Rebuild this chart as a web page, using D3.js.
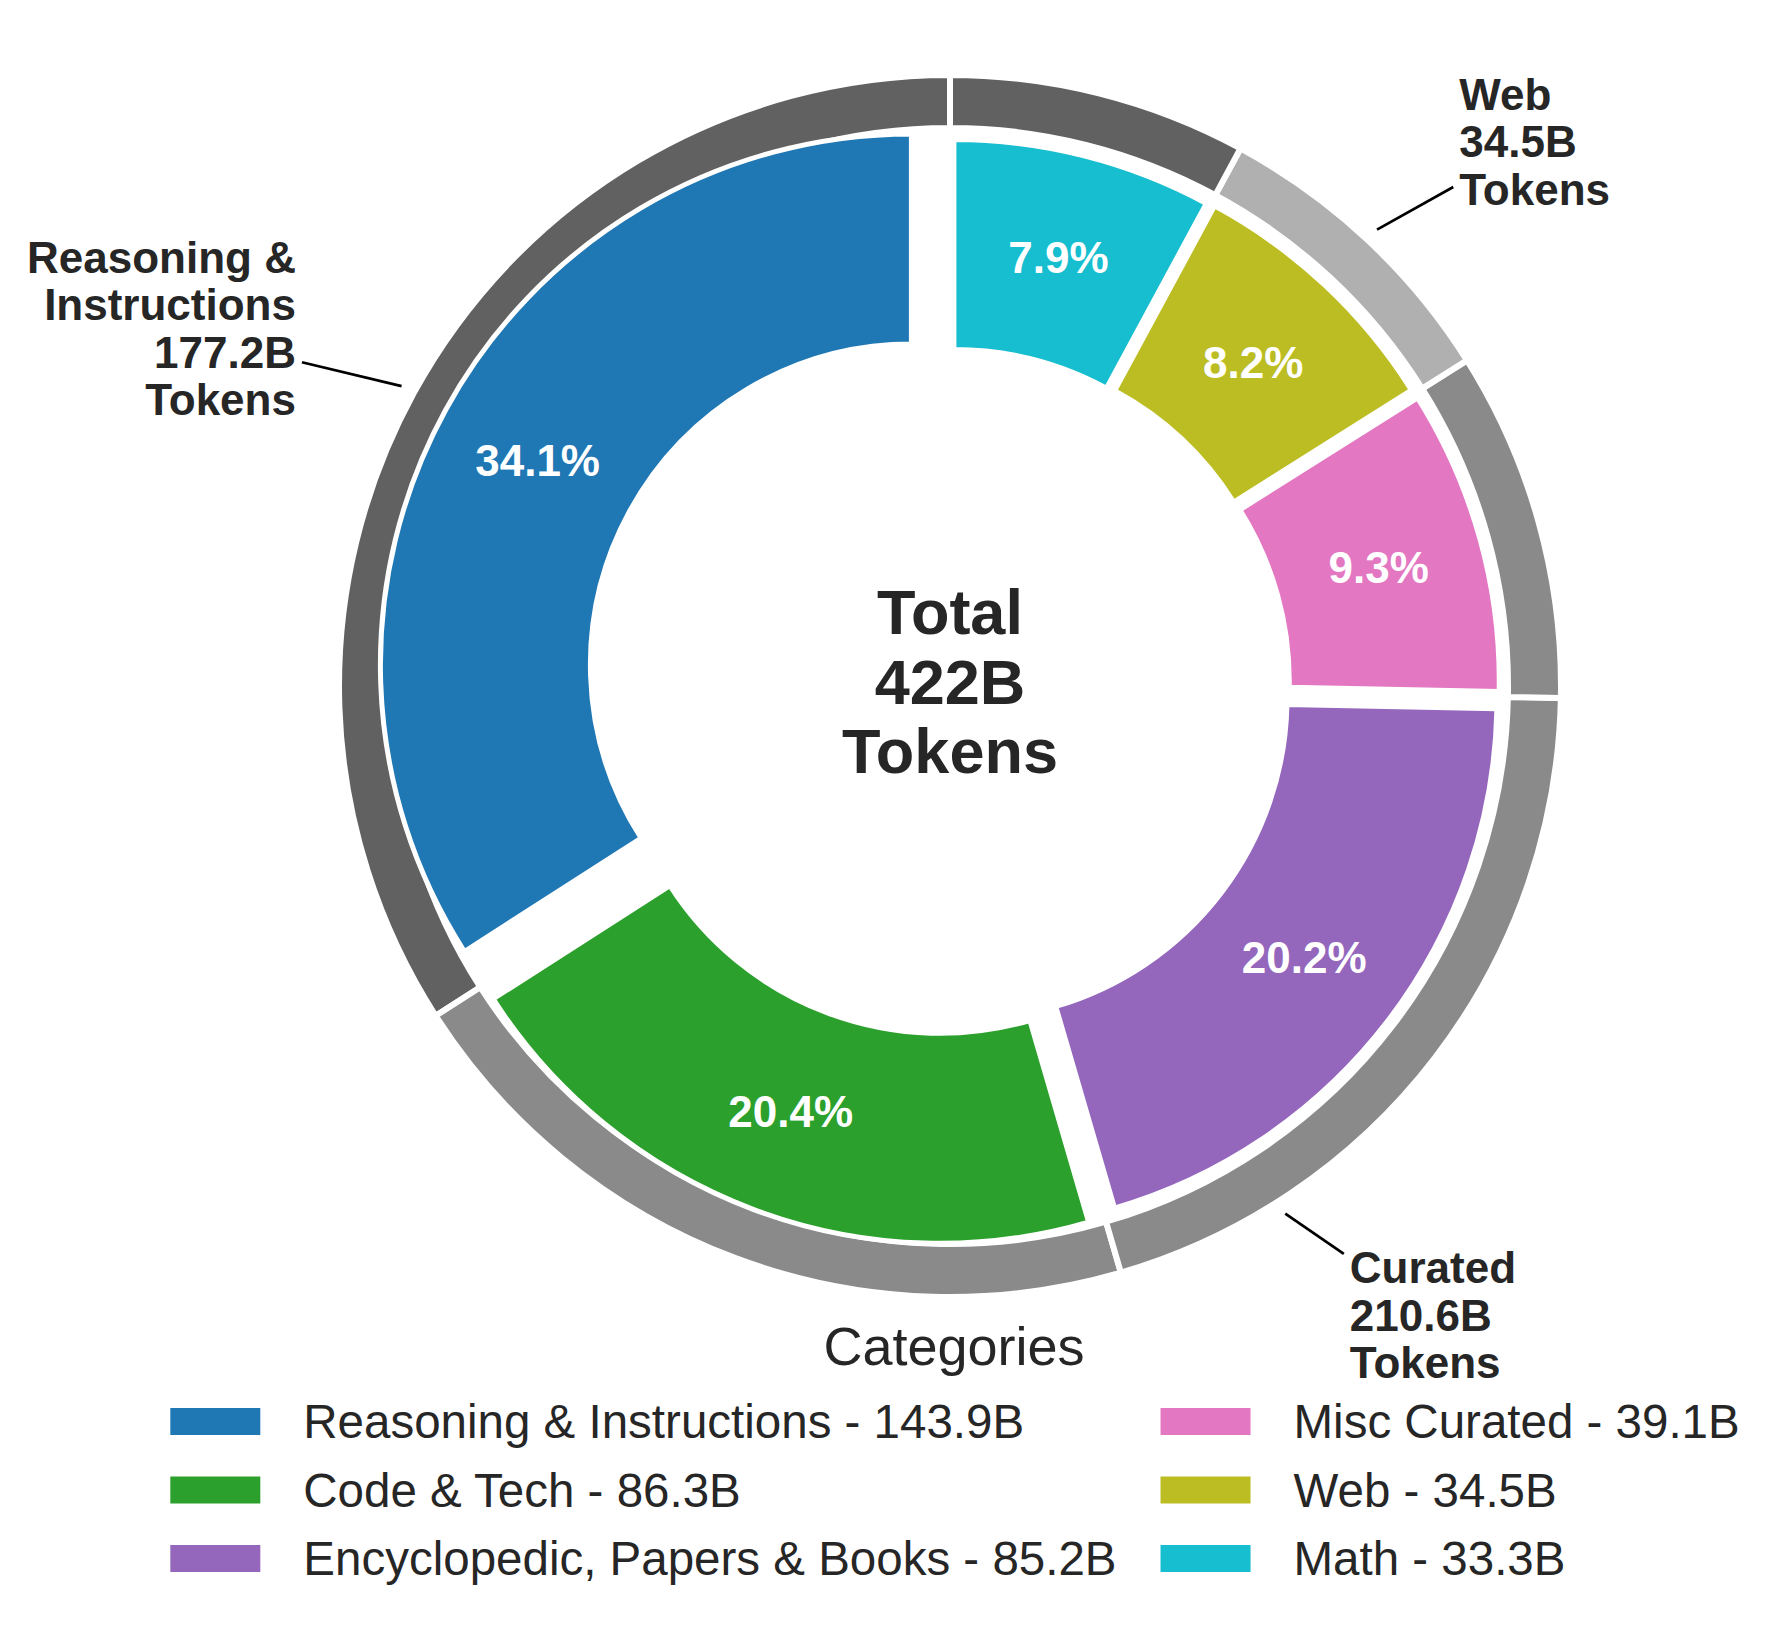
<!DOCTYPE html>
<meta charset="utf-8">
<title>Token mix donut</title>
<style>
    body { margin: 0; background: #fff; }
    svg { display: block; font-family: "Liberation Sans", Arial, sans-serif; }
</style>
<script src="https://d3js.org/d3.v7.min.js"></script>
<body>
<script>
    // data
    const categories = ["Reasoning & Instructions", "Code & Tech", "Encyclopedic, Papers & Books",
                        "Misc Curated", "Web", "Math"];
    const tokens = [143.9, 86.3, 85.2, 39.1, 34.5, 33.3];
    const categoryGroup = ["Reasoning & Instructions", "Curated", "Curated", "Curated", "Web", "Reasoning & Instructions"];
    const groups = ["Reasoning & Instructions", "Curated", "Web"];

    // styles
    const catColors = ["#1f77b4", "#2ca02c", "#9467bd", "#e377c2", "#bcbd22", "#17becf"];
    const groupColors = ["#616161", "#8a8a8a", "#b0b0b0"];
    const explode = [0.072, 0.046, 0.033, 0.031, 0.029, 0.026];   // fraction of outer radius
    const ink = "#262626";

    const width = 1782, height = 1627;
    const cx = 950, cy = 686;
    const R = 611;

    const svg = d3.select("body").append("svg")
        .attr("width", width)
        .attr("height", height);

    const total = d3.sum(tokens);
    const rows = categories.map((c, i) => ({name: c, value: tokens[i], group: categoryGroup[i], i: i}));

    // counter-clockwise from 12 o'clock like matplotlib startangle=90
    const pie = d3.pie().sort(null).value(d => d.value).startAngle(0).endAngle(-2 * Math.PI);
    const arcs = pie(rows);

    const outerArc = d3.arc().innerRadius(R - 53).outerRadius(R);
    const innerArc = d3.arc().innerRadius(321).outerRadius(531);

    const chart = svg.append("g").attr("transform", `translate(${cx},${cy})`);

    // outer ring, one wedge per category coloured by group
    chart.selectAll(".outer")
        .data(arcs)
        .join("path")
        .attr("class", "outer")
        .attr("d", outerArc)
        .attr("fill", d => groupColors[groups.indexOf(d.data.group)])
        .attr("stroke", "white")
        .attr("stroke-width", 6)
        .attr("stroke-linejoin", "miter");

    const mid = d => (d.startAngle + d.endAngle) / 2;

    // inner ring, exploded
    const wedge = chart.selectAll(".inner")
        .data(arcs)
        .join("g")
        .attr("class", "inner")
        .attr("transform", d => {
            const off = explode[d.data.i] * R, a = mid(d);
            return `translate(${off * Math.sin(a)},${-off * Math.cos(a)})`;
        });

    wedge.append("path")
        .attr("d", innerArc)
        .attr("fill", d => catColors[d.data.i])
        .attr("stroke", "white")
        .attr("stroke-width", 5)
        .attr("stroke-linejoin", "miter");

    wedge.append("text")
        .attr("transform", d => `translate(${innerArc.centroid(d)})`)
        .attr("text-anchor", "middle")
        .attr("dy", "0.36em")
        .attr("fill", "white")
        .style("font-size", "44px")
        .style("font-weight", "bold")
        .text(d => (d.data.value / total * 100).toFixed(1) + "%");

    // centre text
    const centre = chart.append("text")
        .attr("text-anchor", "middle")
        .attr("fill", ink)
        .style("font-size", "63px")
        .style("font-weight", "bold");
    ["Total", Math.round(total) + "B", "Tokens"].forEach((t, k) => {
        centre.append("tspan").attr("x", 0).attr("y", -52 + k * 69.7).text(t);
    });

    // group labels: placed at the middle of each group's largest run of wedges
    groups.forEach(gname => {
        let runs = [], cur = null;
        arcs.forEach((d, k) => {
            if (d.data.group === gname) {
                if (cur && cur.last === k - 1) { cur.end = d.endAngle; cur.sum += d.value; cur.last = k; }
                else { cur = {start: d.startAngle, end: d.endAngle, sum: d.value, last: k}; runs.push(cur); }
            }
        });
        const run = runs.reduce((a, b) => b.sum > a.sum ? b : a);
        const a = (run.start + run.end) / 2;
        const sx = Math.sin(a), sy = -Math.cos(a);
        const gsum = d3.sum(rows.filter(r => r.group === gname), r => r.value);

        const lines = gname === "Reasoning & Instructions"
            ? ["Reasoning &", "Instructions", gsum.toFixed(1) + "B", "Tokens"]
            : [gname, gsum.toFixed(1) + "B", "Tokens"];

        const ax = sx * R * 1.22, ay = sy * R * 1.22;
        const label = chart.append("text")
            .attr("text-anchor", sx < 0 ? "end" : "start")
            .attr("fill", ink)
            .style("font-size", "44px")
            .style("font-weight", "bold");
        lines.forEach((t, k) => {
            label.append("tspan").attr("x", ax).attr("y", k * 47.5).text(t);
        });
        let bb = label.node().getBBox();
        const shift = ay - (bb.y + bb.height / 2);
        label.attr("transform", `translate(0,${shift})`);
        bb = {x: bb.x, y: bb.y + shift, width: bb.width, height: bb.height};

        // leader line from the ring toward the label box centre, clipped at the box
        const p0 = [sx * R * 1.023, sy * R * 1.023];
        const c = [bb.x + bb.width / 2, bb.y + bb.height / 2];
        const pad = 6;
        const x0 = bb.x - pad, x1 = bb.x + bb.width + pad, y0 = bb.y - pad, y1 = bb.y + bb.height + pad;
        const vx = c[0] - p0[0], vy = c[1] - p0[1];
        const tx = vx > 0 ? (x0 - p0[0]) / vx : (x1 - p0[0]) / vx;
        const ty = vy > 0 ? (y0 - p0[1]) / vy : (y1 - p0[1]) / vy;
        const t = Math.max(tx, ty);
        chart.append("line")
            .attr("x1", p0[0]).attr("y1", p0[1])
            .attr("x2", p0[0] + t * vx).attr("y2", p0[1] + t * vy)
            .attr("stroke", "black")
            .attr("stroke-width", 2.7);
    });

    // legend, two columns filled column-wise
    const legend = svg.append("g").attr("class", "legend");
    const rowY = [1421.5, 1490, 1558.5];
    const patchW = 90, patchH = 27, textGap = 43, colGap = 44;
    const items = legend.selectAll(".item")
        .data(rows)
        .join("g")
        .attr("class", "item");
    items.append("rect")
        .attr("width", patchW).attr("height", patchH)
        .attr("y", d => rowY[d.i % 3] - patchH / 2)
        .attr("fill", d => catColors[d.i]);
    items.append("text")
        .attr("x", patchW + textGap)
        .attr("y", d => rowY[d.i % 3])
        .attr("dy", "0.35em")
        .attr("fill", ink)
        .style("font-size", "47.5px")
        .text(d => `${d.name} - ${d.value.toFixed(1)}B`);

    const colW = [0, 1].map(col => d3.max(items.filter(d => Math.floor(d.i / 3) === col).select("text").nodes(),
        n => n.getComputedTextLength()));
    const col2X = patchW + textGap + colW[0] + colGap;
    const legendW = col2X + patchW + textGap + colW[1];
    const legendX = 955 - legendW / 2;
    items.attr("transform", d => `translate(${legendX + (d.i < 3 ? 0 : col2X)},0)`);

    legend.append("text")
        .attr("x", 954)
        .attr("y", 1365)
        .attr("text-anchor", "middle")
        .attr("fill", ink)
        .style("font-size", "54px")
        .text("Categories");
</script>
</body>
